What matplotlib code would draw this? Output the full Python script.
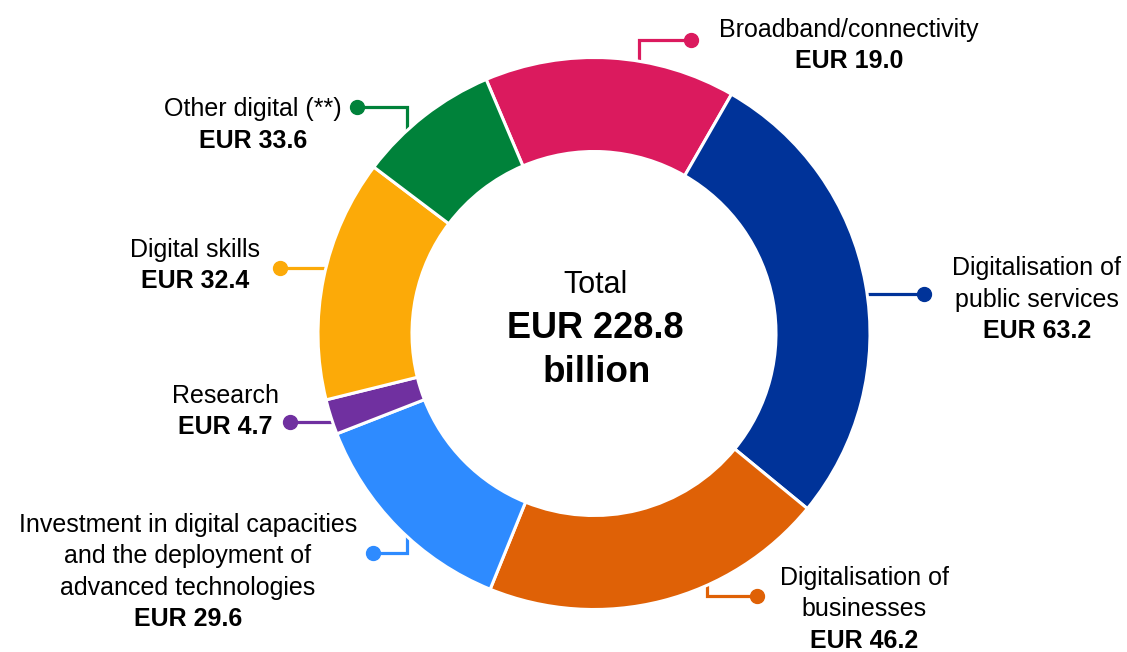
import numpy as np
import matplotlib.pyplot as plt

W, H = 1127, 652

# Data
labels = [
    "Broadband/connectivity",
    "Digitalisation of\npublic services",
    "Digitalisation of\nbusinesses",
    "Investment in digital capacities\nand the deployment of\nadvanced technologies",
    "Research",
    "Digital skills",
    "Other digital (**)",
]
label_values = [19.0, 63.2, 46.2, 29.6, 4.7, 32.4, 33.6]
# slice sizes as drawn in the source (pink and green look swapped vs. their labels)
slice_values = [33.6, 63.2, 46.2, 29.6, 4.7, 32.4, 19.0]
colors = ["#DB1A5E", "#003399", "#DF6106", "#2E8BFF", "#7030A0", "#FCAA08", "#00823A"]
total = 228.8

# Layout, in pixels measured from the top-left corner
cx, cy = 594, 333.5
r_out, ring = 276, 94
text_pos = [(849, 37), (1037, 275), (864, 585), (188, 532), (225, 403), (195, 257), (253, 116)]
dots = [(691, 40), (924, 294), (757, 596), (373, 553), (290, 422), (280, 268), (357, 107)]
elbows = [639, None, 707, 407, None, None, 407]
step = 31.5

plt.rcParams['font.family'] = ['Liberation Sans', 'DejaVu Sans']

fig = plt.figure(figsize=(W / 100, H / 100), dpi=100)
ax = fig.add_axes([0, 0, 1, 1])

ax.pie(slice_values, colors=colors, startangle=113, counterclock=False,
       center=(cx, H - cy), radius=r_out,
       wedgeprops=dict(width=ring, edgecolor="white", linewidth=2.2, zorder=2))

# leader lines with a dot at the label end
for (px, py), ex, col in zip(dots, elbows, colors):
    if ex is None:
        half = np.sqrt(r_out ** 2 - (py - cy) ** 2)
        edge_x = cx - half + 8 if px < cx else cx + half - 8
        xs, ys = [px, edge_x], [py, py]
    else:
        half = np.sqrt(r_out ** 2 - (ex - cx) ** 2)
        edge_y = cy - half + 8 if py < cy else cy + half - 8
        xs, ys = [px, ex, ex], [py, py, edge_y]
    ax.plot(xs, [H - v for v in ys], color=col, lw=2.3, zorder=1,
            solid_capstyle="butt", solid_joinstyle="miter")
    ax.plot(px, H - py, "o", color=col, ms=10, zorder=3)

for name, val, (tx, ty) in zip(labels, label_values, text_pos):
    lines = name.split("\n")
    for i, line in enumerate(lines):
        ax.text(tx, H - (ty + i * step), line, ha="center", va="baseline", fontsize=18)
    ax.text(tx, H - (ty + len(lines) * step), f"EUR {val:.1f}", ha="center",
            va="baseline", fontsize=18, fontweight="bold")

ax.text(595, H - 293, "Total", ha="center", va="baseline", fontsize=22)
ax.text(595, H - 338, f"EUR {total}", ha="center", va="baseline", fontsize=26, fontweight="bold")
ax.text(597, H - 382, "billion", ha="center", va="baseline", fontsize=26.5, fontweight="bold")

ax.set_xlim(0, W)
ax.set_ylim(0, H)
ax.axis("off")

fig.savefig("out.png", dpi=100, facecolor="white")
